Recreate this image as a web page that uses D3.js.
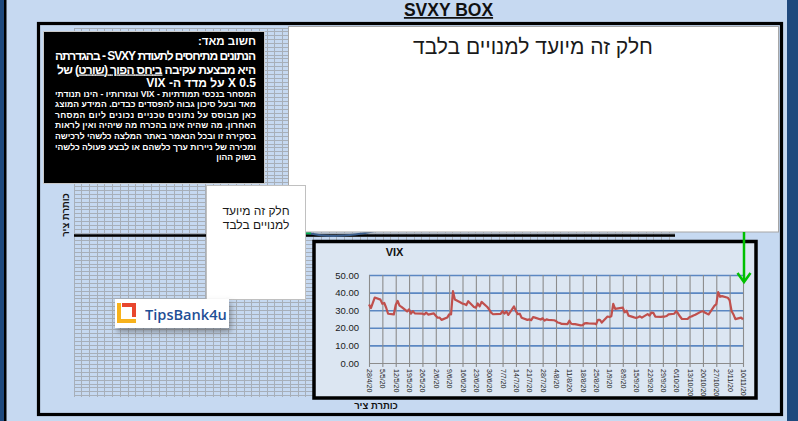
<!DOCTYPE html>
<html>
<head>
<meta charset="utf-8">
<script src="https://cdn.jsdelivr.net/npm/d3@7"></script>
<style>
  body { margin: 0; background: #c6d9f1; }
  svg { display: block; }
</style>
</head>
<body>
<svg id="page" width="798" height="421"></svg>
<script>
// weekly category labels on the VIX x axis
const tickLabels = ["28/4/20", "5/5/20", "12/5/20", "19/5/20", "26/5/20", "2/6/20", "9/6/20", "16/6/20",
    "23/6/20", "30/6/20", "7/7/20", "14/7/20", "21/7/20", "28/7/20", "4/8/20", "11/8/20", "18/8/20",
    "25/8/20", "1/9/20", "8/9/20", "15/9/20", "22/9/20", "29/9/20", "6/10/20", "13/10/20", "20/10/20",
    "27/10/20", "3/11/20", "10/11/20"];

// VIX daily closes (trading days)
const vixDates = ["28/4/20", "29/4/20", "30/4/20",
    "1/5/20", "4/5/20", "5/5/20", "6/5/20", "7/5/20", "8/5/20", "11/5/20", "12/5/20", "13/5/20", "14/5/20",
    "15/5/20", "18/5/20", "19/5/20", "20/5/20", "21/5/20", "22/5/20", "26/5/20", "27/5/20", "28/5/20", "29/5/20",
    "1/6/20", "2/6/20", "3/6/20", "4/6/20", "5/6/20", "8/6/20", "9/6/20", "10/6/20", "11/6/20", "12/6/20",
    "15/6/20", "16/6/20", "17/6/20", "18/6/20", "19/6/20", "22/6/20", "23/6/20", "24/6/20", "25/6/20", "26/6/20",
    "29/6/20", "30/6/20",
    "1/7/20", "2/7/20", "6/7/20", "7/7/20", "8/7/20", "9/7/20", "10/7/20", "13/7/20", "14/7/20", "15/7/20",
    "16/7/20", "17/7/20", "20/7/20", "21/7/20", "22/7/20", "23/7/20", "24/7/20", "27/7/20", "28/7/20", "29/7/20",
    "30/7/20", "31/7/20",
    "3/8/20", "4/8/20", "5/8/20", "6/8/20", "7/8/20", "10/8/20", "11/8/20", "12/8/20", "13/8/20", "14/8/20",
    "17/8/20", "18/8/20", "19/8/20", "20/8/20", "21/8/20", "24/8/20", "25/8/20", "26/8/20", "27/8/20", "28/8/20",
    "31/8/20",
    "1/9/20", "2/9/20", "3/9/20", "4/9/20", "8/9/20", "9/9/20", "10/9/20", "11/9/20", "14/9/20", "15/9/20",
    "16/9/20", "17/9/20", "18/9/20", "21/9/20", "22/9/20", "23/9/20", "24/9/20", "25/9/20", "28/9/20", "29/9/20",
    "30/9/20",
    "1/10/20", "2/10/20", "5/10/20", "6/10/20", "7/10/20", "8/10/20", "9/10/20", "12/10/20", "13/10/20",
    "14/10/20", "15/10/20", "16/10/20", "19/10/20", "20/10/20", "21/10/20", "22/10/20", "23/10/20", "26/10/20",
    "27/10/20", "28/10/20", "29/10/20", "30/10/20",
    "2/11/20", "3/11/20", "4/11/20", "5/11/20", "6/11/20", "9/11/20", "10/11/20"];

const vixValues = [33.3, 31.2, 34.2,
    37.2, 36.0, 33.6, 34.1, 31.4, 28.0, 27.6, 33.0, 35.3, 32.6,
    31.9, 29.3, 30.5, 28.0, 29.5, 28.2, 28.0, 27.6, 28.6, 27.5,
    28.2, 26.8, 25.7, 25.8, 24.5, 25.8, 27.6, 27.6, 40.8, 36.1,
    34.4, 33.7, 33.5, 32.9, 35.1, 31.8, 31.4, 33.8, 32.2, 34.7,
    31.8, 30.4,
    28.6, 27.7, 27.9, 29.4, 28.1, 29.3, 27.3, 32.2, 29.5, 27.8,
    28.0, 25.7, 24.5, 24.8, 24.3, 26.1, 25.8, 24.7, 25.4, 24.1,
    24.8, 24.5,
    24.3, 23.8, 23.0, 22.7, 22.2, 22.1, 24.0, 22.3, 22.1, 22.1,
    21.4, 21.5, 22.5, 22.7, 22.5, 22.4, 22.0, 24.5, 24.5, 23.0,
    26.4,
    26.1, 26.6, 33.6, 30.8, 31.5, 28.8, 29.7, 26.9, 25.9, 25.6,
    26.0, 26.5, 25.8, 27.8, 26.9, 28.6, 28.5, 26.4, 26.2, 26.3,
    26.4,
    26.7, 27.6, 28.0, 29.5, 28.1, 26.4, 25.0, 25.1, 26.1,
    26.4, 27.0, 27.4, 29.2, 29.4, 28.7, 28.1, 27.6, 32.5,
    33.4, 40.3, 37.6, 38.0,
    37.1, 35.6, 29.6, 27.6, 24.9, 25.8, 24.8];

const yTicks = [0, 10, 20, 30, 40, 50];

const pageTitle = "SVXY BOX";
const chartTitle = "VIX";
const axisTitle = "כותרת ציר";
const subscribersText = "חלק זה מיועד למנויים בלבד";
const subscribersLines = ["חלק זה  מיועד", "למנויים בלבד"];
const noteTitle = "חשוב מאד:";
const noteLine1 = "הנתונים מתיחסים לתעודת SVXY - בהגדרתה";
const noteLine2 = ["היא מבצעת עקיבה ", "ביחס הפוך (שורט)", " של"];
const noteLine3 = "0.5 X על מדד ה- VIX";
const noteSmall = [
    "המסחר בנכסי תמודתיות - VIX ונגזרותיו  - הינו תנודתי",
    "מאד ובעל סיכון גבוה להפסדים כבדים. המידע המוצג",
    "כאן מבוסס על נתונים טכניים נכונים ליום המסחר",
    "האחרון. מה שהיה אינו בהכרח מה שיהיה ואין לראות",
    "בסקירה זו ובכל הנאמר באתר המלצה כלשהי לרכישה",
    "ומכירה של ניירות ערך כלשהם או לבצע פעולה כלשהי",
    "בשוק ההון"
];
const logoText = "TipsBank4u";

const FONT = '"Liberation Sans", Arial, sans-serif';
const parseDay = d3.utcParse("%d/%m/%y");

const svg = d3.select("#page");

// page background + side stripes
svg.append("rect").attr("width", 798).attr("height", 421).attr("fill", "#c6d9f1");
svg.append("rect").attr("x", 0).attr("width", 4).attr("height", 421).attr("fill", "#1f497d");
svg.append("rect").attr("x", 4).attr("width", 2.5).attr("height", 421).attr("fill", "#000");
svg.append("rect").attr("x", 787).attr("width", 11).attr("height", 421).attr("fill", "#1f497d");

svg.append("text")
    .attr("x", 448.5).attr("y", 16)
    .attr("text-anchor", "middle")
    .attr("font-family", FONT).attr("font-weight", "bold").attr("font-size", 17.5)
    .attr("text-decoration", "underline")
    .attr("fill", "#111")
    .text(pageTitle);

// excel cell grid behind everything
const grid = { left: 74, right: 675, top: 28, bottom: 397, cw: 7.73, ch: 3.87 };
const gridG = svg.append("g")
    .attr("stroke", "#a7afb9").attr("stroke-width", 1)
    .attr("shape-rendering", "crispEdges");
gridG.selectAll("line.v")
    .data(d3.range(grid.left, grid.right + 0.1, grid.cw))
    .join("line")
    .attr("x1", d => d).attr("x2", d => d)
    .attr("y1", grid.top).attr("y2", grid.bottom);
gridG.selectAll("line.h")
    .data(d3.range(grid.top, grid.bottom + 0.1, grid.ch))
    .join("line")
    .attr("x1", grid.left).attr("x2", grid.right)
    .attr("y1", d => d).attr("y2", d => d);

// outer frame
svg.append("rect")
    .attr("x", 38.5).attr("y", 23.5).attr("width", 743).attr("height", 391)
    .attr("fill", "none").attr("stroke", "#000").attr("stroke-width", 3.2);

// leftovers of a hidden chart
svg.append("line")
    .attr("x1", grid.left).attr("x2", grid.right).attr("y1", 235.5).attr("y2", 235.5)
    .attr("stroke", "#000").attr("stroke-width", 2.5);
svg.append("path")
    .attr("d", "M309,233 Q335,240 380,230")
    .attr("fill", "none").attr("stroke", "#3b5e8c").attr("stroke-width", 2);
svg.append("line")
    .attr("x1", 305).attr("x2", 311).attr("y1", 233).attr("y2", 233)
    .attr("stroke", "#00b050").attr("stroke-width", 2.5);

// black disclaimer box, right-to-left paragraphs
svg.append("rect")
    .attr("x", 43.5).attr("y", 31.5).attr("width", 221).attr("height", 152)
    .attr("fill", "#000").attr("stroke", "#c8c8c8").attr("stroke-width", 1);

const noteRight = 256;
const rtlText = (g, y, size) => g.append("text")
    .attr("x", noteRight).attr("y", y)
    .attr("direction", "rtl").attr("text-anchor", "start")
    .attr("font-family", FONT).attr("font-size", size).attr("font-weight", "bold")
    .attr("fill", "#fff");

const noteG = svg.append("g");
rtlText(noteG, 45, 11.5).text(noteTitle);
rtlText(noteG, 60, 12).attr("textLength", 201).attr("lengthAdjust", "spacing").text(noteLine1);
const l2 = rtlText(noteG, 73.5, 12).attr("textLength", 199).attr("lengthAdjust", "spacing");
l2.append("tspan").text(noteLine2[0]);
l2.append("tspan").attr("text-decoration", "underline").text(noteLine2[1]);
l2.append("tspan").text(noteLine2[2]);
rtlText(noteG, 87, 12).text(noteLine3);
noteSmall.forEach((line, i) => {
    const t = rtlText(noteG, 96.5 + i * 10.6, 8.6).text(line);
    if (i < noteSmall.length - 1) t.attr("textLength", 201).attr("lengthAdjust", "spacing");
});

// subscriber boxes
svg.append("rect")
    .attr("x", 288.5).attr("y", 26.5).attr("width", 490).attr("height", 205.5)
    .attr("fill", "#fff").attr("stroke", "#a6a6a6");
svg.append("text")
    .attr("x", 533).attr("y", 54)
    .attr("direction", "rtl").attr("text-anchor", "middle")
    .attr("font-family", FONT).attr("font-size", 21).attr("fill", "#1a1a1a")
    .text(subscribersText);

svg.append("rect")
    .attr("x", 206.5).attr("y", 185.5).attr("width", 99).attr("height", 114)
    .attr("fill", "#fff").attr("stroke", "#c0c0c0");
subscribersLines.forEach((line, i) => {
    svg.append("text")
        .attr("x", 256).attr("y", 215 + i * 14)
        .attr("direction", "rtl").attr("text-anchor", "middle")
        .attr("font-family", FONT).attr("font-size", 12).attr("fill", "#1a1a1a")
        .text(line);
});

// logo
const defs = svg.append("defs");
const shadow = defs.append("filter").attr("id", "shadow")
    .attr("x", "-20%").attr("y", "-40%").attr("width", "150%").attr("height", "220%");
shadow.append("feDropShadow")
    .attr("dx", 2).attr("dy", 4).attr("stdDeviation", 3)
    .attr("flood-color", "#555").attr("flood-opacity", 0.6);

const logo = svg.append("g").attr("transform", "translate(115,299)");
logo.append("rect").attr("width", 114).attr("height", 29).attr("fill", "#fff").attr("filter", "url(#shadow)");
logo.append("path").attr("d", "M2,4 H6 V20 H21 V24 H2 Z").attr("fill", "#f7b21c");
logo.append("path").attr("d", "M7,4 H21 V18 H17 V8 H7 Z").attr("fill", "#e8472f");
logo.append("text")
    .attr("x", 30).attr("y", 21)
    .attr("font-family", '"Open Sans", sans-serif').attr("font-weight", 600).attr("font-size", 14.6)
    .attr("fill", "#1f4f96")
    .text(logoText);

// axis titles of the hidden chart
svg.append("text")
    .attr("transform", "translate(68.5,215) rotate(-90)")
    .attr("direction", "rtl").attr("text-anchor", "middle")
    .attr("font-family", FONT).attr("font-weight", "bold").attr("font-size", 9.5).attr("fill", "#111")
    .text(axisTitle);
svg.append("text")
    .attr("x", 376).attr("y", 408.5)
    .attr("direction", "rtl").attr("text-anchor", "middle")
    .attr("font-family", FONT).attr("font-weight", "bold").attr("font-size", 9.5).attr("fill", "#111")
    .text(axisTitle);

// VIX chart
svg.append("rect")
    .attr("x", 314).attr("y", 241.5).attr("width", 442).attr("height", 156.5)
    .attr("fill", "#dce6f2").attr("stroke", "#000").attr("stroke-width", 3.5);

svg.append("text")
    .attr("x", 394.5).attr("y", 255.5)
    .attr("text-anchor", "middle")
    .attr("font-family", FONT).attr("font-weight", "bold").attr("font-size", 11).attr("fill", "#111")
    .text(chartTitle);

const plot = { left: 369, right: 743, top: 275, bottom: 363 };
const tickDates = tickLabels.map(parseDay);
const series = vixDates.map((d, i) => ({ date: parseDay(d), value: vixValues[i] }));

const x = d3.scaleUtc().domain([tickDates[0], tickDates[tickDates.length - 1]]).range([plot.left, plot.right]);
const y = d3.scaleLinear().domain([0, 50]).range([plot.bottom, plot.top]);

const chart = svg.append("g");

// horizontal blue gridlines
chart.append("g")
    .attr("transform", `translate(${plot.left},0)`)
    .call(d3.axisLeft(y).tickValues(yTicks.slice(1)).tickSize(-(plot.right - plot.left)).tickFormat(""))
    .call(g => g.select(".domain").remove())
    .call(g => g.selectAll(".tick line").attr("stroke", "#5b87c2").attr("stroke-width", 1.6));

// vertical gray gridlines
chart.append("g")
    .attr("transform", `translate(0,${plot.bottom})`)
    .call(d3.axisBottom(x).tickValues(tickDates).tickSize(-(plot.bottom - plot.top)).tickFormat(""))
    .call(g => g.select(".domain").remove())
    .call(g => g.selectAll(".tick line").attr("stroke", "#8c8c8c").attr("stroke-width", 1.1));

// x axis with rotated date labels
chart.append("g")
    .attr("transform", `translate(0,${plot.bottom})`)
    .call(d3.axisBottom(x).tickValues(tickDates).tickFormat((d, i) => tickLabels[i]).tickSize(4).tickSizeOuter(0))
    .call(g => g.select(".domain").attr("stroke", "#8c8c8c").attr("stroke-width", 1.1))
    .call(g => g.selectAll(".tick line").attr("stroke", "#8c8c8c").attr("stroke-width", 1.1))
    .call(g => g.selectAll(".tick text")
        .attr("transform", "rotate(90)")
        .attr("x", 6).attr("y", 0).attr("dy", "0.35em")
        .attr("text-anchor", "start")
        .attr("font-family", FONT).attr("font-size", 7).attr("fill", "#222"));

// y axis labels
chart.append("g")
    .attr("transform", `translate(${plot.left},0)`)
    .call(d3.axisLeft(y).tickValues(yTicks).tickSize(0).tickPadding(10).tickFormat(d3.format(".2f")))
    .call(g => g.select(".domain").remove())
    .call(g => g.selectAll(".tick text").attr("font-family", FONT).attr("font-size", 9.5).attr("fill", "#1a1a1a"));

const line = d3.line().x(d => x(d.date)).y(d => y(d.value));
chart.append("path")
    .datum(series)
    .attr("d", line)
    .attr("fill", "none")
    .attr("stroke", "#c0504d")
    .attr("stroke-width", 2.2)
    .attr("stroke-linejoin", "round");

// green arrow
svg.append("line")
    .attr("x1", 744).attr("x2", 744).attr("y1", 232).attr("y2", 281)
    .attr("stroke", "#00c000").attr("stroke-width", 2.5);
svg.append("path")
    .attr("d", "M737.5,273 L744,282 L750.5,273")
    .attr("fill", "none").attr("stroke", "#00c000").attr("stroke-width", 2.5);
</script>
</body>
</html>
